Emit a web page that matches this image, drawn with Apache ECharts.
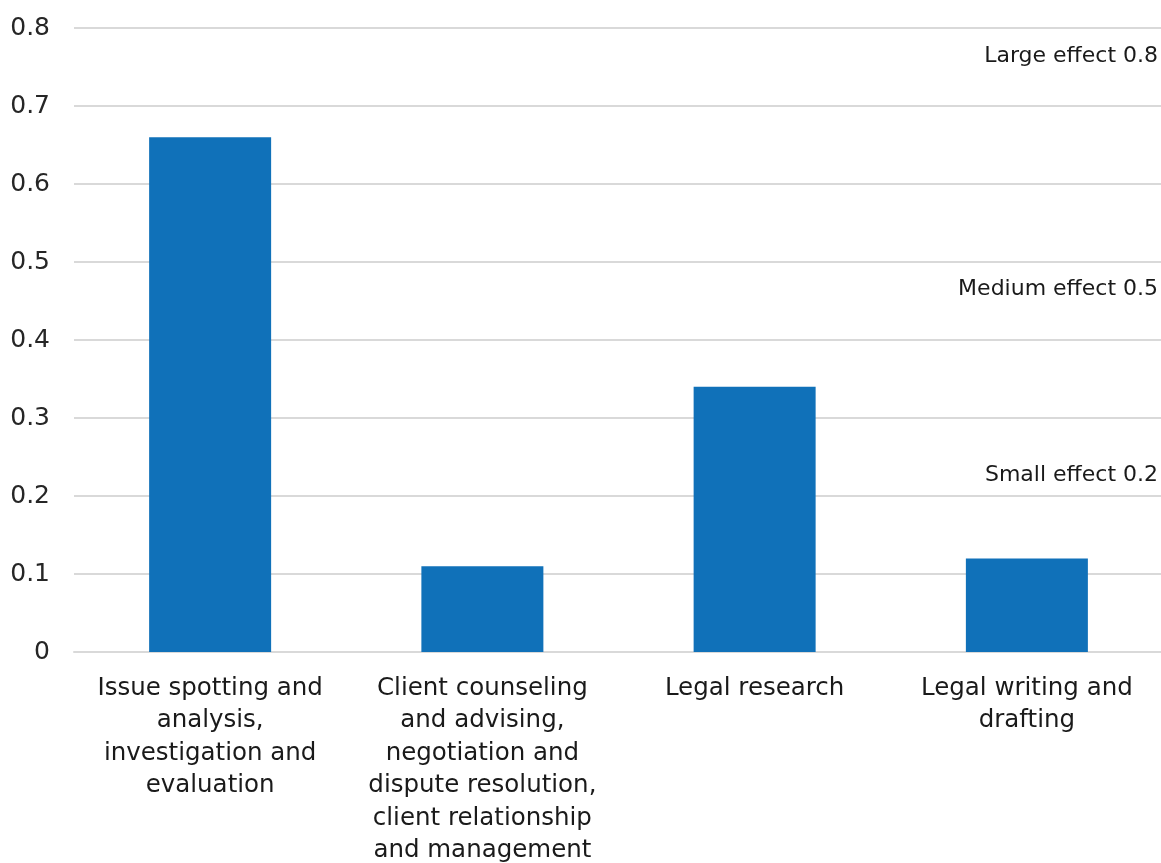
<!DOCTYPE html>
<html>
<head>
<meta charset="utf-8">
<script src="https://cdn.jsdelivr.net/npm/echarts@6/dist/echarts.min.js"></script>
<style>
html,body{margin:0;padding:0;background:#fff;}
#c{width:1161px;height:863px;}
</style>
</head>
<body>
<div id="c"></div>
<script>
const categories = [
  "Issue spotting and\nanalysis,\ninvestigation and\nevaluation",
  "Client counseling\nand advising,\nnegotiation and\ndispute resolution,\nclient relationship\nand management",
  "Legal research",
  "Legal writing and\ndrafting"
];
const values = [0.66, 0.11, 0.34, 0.12];
const yTicks = [0, 0.1, 0.2, 0.3, 0.4, 0.5, 0.6, 0.7, 0.8];
const annotations = ["Large effect 0.8", "Medium effect 0.5", "Small effect 0.2"];

const FONT = "'DejaVu Sans', sans-serif";
const chart = echarts.init(document.getElementById('c'));
chart.setOption({
  animation: false,
  backgroundColor: '#fff',
  grid: {left: 74, right: -2, top: 28, bottom: 211, containLabel: false, outerBoundsMode: 'none'},
  xAxis: {
    type: 'category',
    data: categories,
    axisLine: {lineStyle: {color: '#d9d9d9', width: 2}},
    axisTick: {show: false},
    axisLabel: {color: '#1a1a1a', fontSize: 24.5, fontFamily: FONT, lineHeight: 32.5, margin: 20, interval: 0}
  },
  yAxis: {
    type: 'value',
    min: yTicks[0], max: yTicks[yTicks.length - 1], interval: 0.1,
    axisLine: {show: false},
    axisTick: {show: false},
    splitLine: {lineStyle: {color: '#d9d9d9', width: 2}},
    axisLabel: {color: '#262626', fontSize: 25, fontFamily: FONT, margin: 24,
      formatter: v => String(Math.round(v * 10) / 10)}
  },
  series: [{
    type: 'bar',
    data: values,
    barWidth: 122,
    itemStyle: {color: '#1071b9'}
  }],
  graphic: [
    {type: 'text', right: 3, top: 45, style: {text: annotations[0], fill: '#1a1a1a', font: "22px " + FONT}},
    {type: 'text', right: 3, top: 278, style: {text: annotations[1], fill: '#1a1a1a', font: "22px " + FONT}},
    {type: 'text', right: 3, top: 464, style: {text: annotations[2], fill: '#1a1a1a', font: "22px " + FONT}}
  ]
});
</script>
</body>
</html>
